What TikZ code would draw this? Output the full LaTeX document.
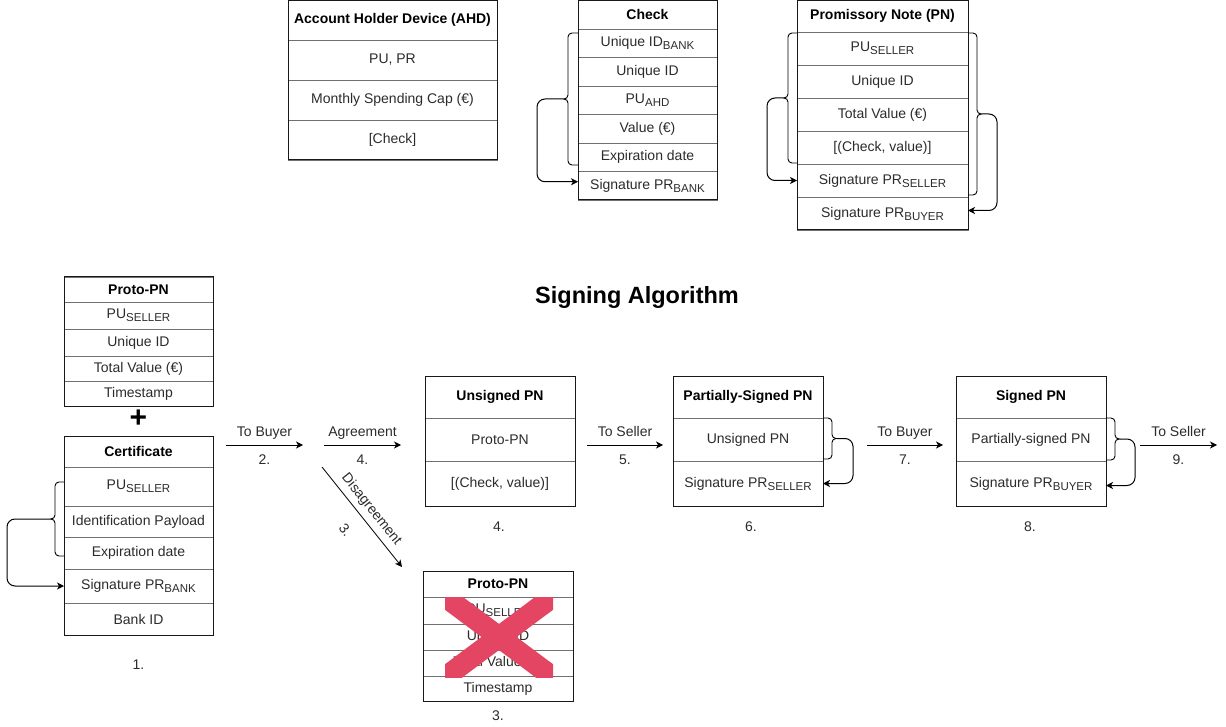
\documentclass[tikz,border=0pt]{standalone}
\usepackage{fontspec}
\setmainfont{Liberation Sans}
\usetikzlibrary{arrows.meta}
\definecolor{txt}{HTML}{2B2B2B}
\definecolor{sep}{HTML}{707070}
\definecolor{crossred}{RGB}{227,69,99}
\newcommand\sub[1]{\raisebox{-3pt}{\fontsize{11.5}{11.5}\selectfont #1}}
\begin{document}
\begin{tikzpicture}[x=1pt,y=-1pt,
  cell/.style 2 args={draw=sep, line width=0.8pt, inner sep=0pt, outer sep=0pt, anchor=north west,
     text=txt, font=\fontsize{14}{16}\selectfont, minimum width=#1, minimum height=#2},
  hd/.style={font=\bfseries\fontsize{14}{16}\selectfont, text=black},
  frame/.style={draw=black!90, line width=1pt},
  br/.style={draw=black, line width=0.9pt, rounded corners=4pt},
  flow/.style={draw=black, line width=1pt, -{Stealth[length=7pt,width=7pt,inset=2pt]}},
  lbl/.style={text=txt, font=\fontsize{14}{16}\selectfont, inner sep=0pt, text height=10.5pt, text depth=3pt}]
\useasboundingbox (0,0) rectangle (1226,727);

% ---------- Account Holder Device ----------
\node[cell={209pt}{39.5pt}, hd] (ahdh) at (288,0.5) {Account Holder Device (AHD)};
\node[cell={209pt}{40pt}] (ahd1) at (288,40) {PU, PR};
\node[cell={209pt}{40pt}] (ahd2) at (288,80) {Monthly Spending Cap (€)};
\node[cell={209pt}{40pt}] (ahd3) at (288,120) {[Check]};
\draw[frame] (ahdh.north west) rectangle (ahd3.south east);

% ---------- Check ----------
\node[cell={139pt}{28.5pt}, hd] (chkh) at (578,0.5) {Check};
\node[cell={139pt}{28.5pt}] (chk1) at (578,29) {Unique ID\sub{BANK}};
\node[cell={139pt}{28.5pt}] (chk2) at (578,57.5) {Unique ID};
\node[cell={139pt}{28.5pt}] (chk3) at (578,86) {PU\sub{AHD}};
\node[cell={139pt}{28.5pt}] (chk4) at (578,114.5) {Value (€)};
\node[cell={139pt}{28.5pt}] (chk5) at (578,143) {Expiration date};
\node[cell={139pt}{28.5pt}] (chk6) at (578,171.5) {Signature PR\sub{BANK}};
\draw[frame] (chkh.north west) rectangle (chk6.south east);
\draw[br] (578,33) -- (568,33) -- (568,99) -- (563,99);
\draw[br] (578,165) -- (568,165) -- (568,99) -- (563,99);
\coordinate (chkbt) at (563,99);
\draw[flow, rounded corners=8pt] (chkbt) -- ++(-26,0) |- ([yshift=4pt]chk6.west);

% ---------- Promissory Note ----------
\node[cell={171pt}{31.5pt}, hd] (pnh) at (797,0.5) {Promissory Note (PN)};
\node[cell={171pt}{33pt}] (pn1) at (797,32) {PU\sub{SELLER}};
\node[cell={171pt}{33pt}] (pn2) at (797,65) {Unique ID};
\node[cell={171pt}{33pt}] (pn3) at (797,98) {Total Value (€)};
\node[cell={171pt}{33pt}] (pn4) at (797,131) {[(Check, value)]};
\node[cell={171pt}{33pt}] (pn5) at (797,164) {Signature PR\sub{SELLER}};
\node[cell={171pt}{33pt}] (pn6) at (797,197) {Signature PR\sub{BUYER}};
\draw[frame] (pnh.north west) rectangle (pn6.south east);
\draw[br] (797,33) -- (788,33) -- (788,98) -- (783,98);
\draw[br] (797,163) -- (788,163) -- (788,98) -- (783,98);
\coordinate (pnbtl) at (783,98);
\draw[flow, rounded corners=8pt] (pnbtl) -- ++(-16,0) |- (pn5.west);
\draw[br] (968,33) -- (977,33) -- (977,114) -- (982,114);
\draw[br] (968,195) -- (977,195) -- (977,114) -- (982,114);
\coordinate (pnbtr) at (982,114);
\draw[flow, rounded corners=8pt] (pnbtr) -- ++(15,0) |- ([yshift=3pt]pn6.east);

% ---------- Title ----------
\node[font=\bfseries\fontsize{23.5}{28}\selectfont, text=black] (title) at (637,297) {Signing Algorithm};

% ---------- Proto-PN (top left) ----------
\node[cell={149pt}{25pt}, hd] (pph) at (64,277) {Proto-PN};
\node[cell={149pt}{27pt}] (pp1) at (64,302) {PU\sub{SELLER}};
\node[cell={149pt}{27pt}] (pp2) at (64,329) {Unique ID};
\node[cell={149pt}{25pt}] (pp3) at (64,356) {Total Value (€)};
\node[cell={149pt}{25pt}] (pp4) at (64,381) {Timestamp};
\draw[frame] (pph.north west) rectangle (pp4.south east);

\node[font=\bfseries\fontsize{30}{30}\selectfont, text=black, inner sep=0pt] (plus) at (138.5,419) {+};

% ---------- Certificate ----------
\node[cell={149pt}{31pt}, hd] (certh) at (64,436) {Certificate};
\node[cell={149pt}{39pt}] (cert1) at (64,467) {PU\sub{SELLER}};
\node[cell={149pt}{31pt}] (cert2) at (64,506) {Identification Payload};
\node[cell={149pt}{32pt}] (cert3) at (64,537) {Expiration date};
\node[cell={149pt}{34pt}] (cert4) at (64,569) {Signature PR\sub{BANK}};
\node[cell={149pt}{32pt}] (cert5) at (64,603) {Bank ID};
\draw[frame] (certh.north west) rectangle (cert5.south east);
\draw[br] (64,482) -- (55,482) -- (55,519) -- (50,519);
\draw[br] (64,556) -- (55,556) -- (55,519) -- (50,519);
\coordinate (certbt) at (50,519);
\draw[flow, rounded corners=8pt] (certbt) -- ++(-43,0) |- (cert4.west);
\node[lbl] (n1) at (138.5,666) {1.};

% ---------- Unsigned PN ----------
\node[cell={150pt}{42pt}, hd] (unh) at (425,376) {Unsigned PN};
\node[cell={150pt}{43pt}] (un1) at (425,418) {Proto-PN};
\node[cell={150pt}{45pt}] (un2) at (425,461) {[(Check, value)]};
\draw[frame] (unh.north west) rectangle (un2.south east);
\node[lbl] (n4) at (499,528) {4.};

% ---------- Partially-Signed PN ----------
\node[cell={150pt}{42pt}, hd] (psh) at (673,376) {Partially-Signed PN};
\node[cell={150pt}{43pt}] (ps1) at (673,418) {Unsigned PN};
\node[cell={150pt}{45pt}] (ps2) at (673,461) {Signature PR\sub{SELLER}};
\draw[frame] (psh.north west) rectangle (ps2.south east);
\draw[br] (823,418) -- (832,418) -- (832,438.5) -- (837,438.5);
\draw[br] (823,459) -- (832,459) -- (832,438.5) -- (837,438.5);
\coordinate (psbt) at (837,438.5);
\draw[flow, rounded corners=8pt] (psbt) -- ++(16,0) |- (ps2.east);
\node[lbl] (n6) at (751,528) {6.};

% ---------- Signed PN ----------
\node[cell={150pt}{42pt}, hd] (sh) at (956,376) {Signed PN};
\node[cell={150pt}{43pt}] (s1) at (956,418) {Partially-signed PN};
\node[cell={150pt}{45pt}] (s2) at (956,461) {Signature PR\sub{BUYER}};
\draw[frame] (sh.north west) rectangle (s2.south east);
\draw[br] (1106,418) -- (1115,418) -- (1115,439) -- (1120,439);
\draw[br] (1106,460) -- (1115,460) -- (1115,439) -- (1120,439);
\coordinate (sbt) at (1120,439);
\draw[flow, rounded corners=8pt] (sbt) -- ++(15,0) |- ([yshift=-2pt]s2.east);
\node[lbl] (n8) at (1030,528) {8.};

% ---------- Proto-PN (crossed) ----------
\node[cell={150pt}{26pt}, hd] (xph) at (423,571) {Proto-PN};
\node[cell={150pt}{27pt}] (xp1) at (423,597) {PU\sub{SELLER}};
\node[cell={150pt}{26pt}] (xp2) at (423,624) {Unique ID};
\node[cell={150pt}{26pt}] (xp3) at (423,650) {Total Value (€)};
\node[cell={150pt}{25pt}] (xp4) at (423,676) {Timestamp};
\draw[frame] (xph.north west) rectangle (xp4.south east);
\begin{scope}
  \clip (445,597) rectangle (553,677);
  \draw[crossred, line width=21pt] (440,593) -- (558,681);
  \draw[crossred, line width=21pt] (440,681) -- (558,593);
\end{scope}
\node[lbl] (n3) at (498,717) {3.};

% ---------- Flow arrows ----------
\coordinate (a2s) at (226,445); \coordinate (a2e) at (303,445);
\coordinate (a4s) at (324,445); \coordinate (a4e) at (401,445);
\coordinate (a5s) at (587,445); \coordinate (a5e) at (663,445);
\coordinate (a7s) at (867,445); \coordinate (a7e) at (943,445);
\coordinate (a9s) at (1140,445); \coordinate (a9e) at (1217,445);
\coordinate (a3s) at (322,467); \coordinate (a3e) at (402,567);

\draw[flow] (a2s) -- (a2e)
  node[lbl, midway, yshift=12.5pt] (l2a) {To Buyer}
  node[lbl, midway, yshift=-15.5pt] (l2b) {2.};
\draw[flow] (a4s) -- (a4e)
  node[lbl, midway, yshift=12.5pt] (l4a) {Agreement}
  node[lbl, midway, yshift=-15.5pt] (l4b) {4.};
\draw[flow] (a5s) -- (a5e)
  node[lbl, midway, yshift=12.5pt] (l5a) {To Seller}
  node[lbl, midway, yshift=-15.5pt] (l5b) {5.};
\draw[flow] (a7s) -- (a7e)
  node[lbl, midway, yshift=12.5pt] (l7a) {To Buyer}
  node[lbl, midway, yshift=-15.5pt] (l7b) {7.};
\draw[flow] (a9s) -- (a9e)
  node[lbl, midway, yshift=12.5pt] (l9a) {To Seller}
  node[lbl, midway, yshift=-15.5pt] (l9b) {9.};
\draw[flow, line width=0.8pt] (a3s) -- (a3e)
  node[lbl, midway, sloped, above=5pt] (l3a) {Disagreement}
  node[lbl, midway, sloped, below=15pt] (l3b) {3.};
\end{tikzpicture}
\end{document}
